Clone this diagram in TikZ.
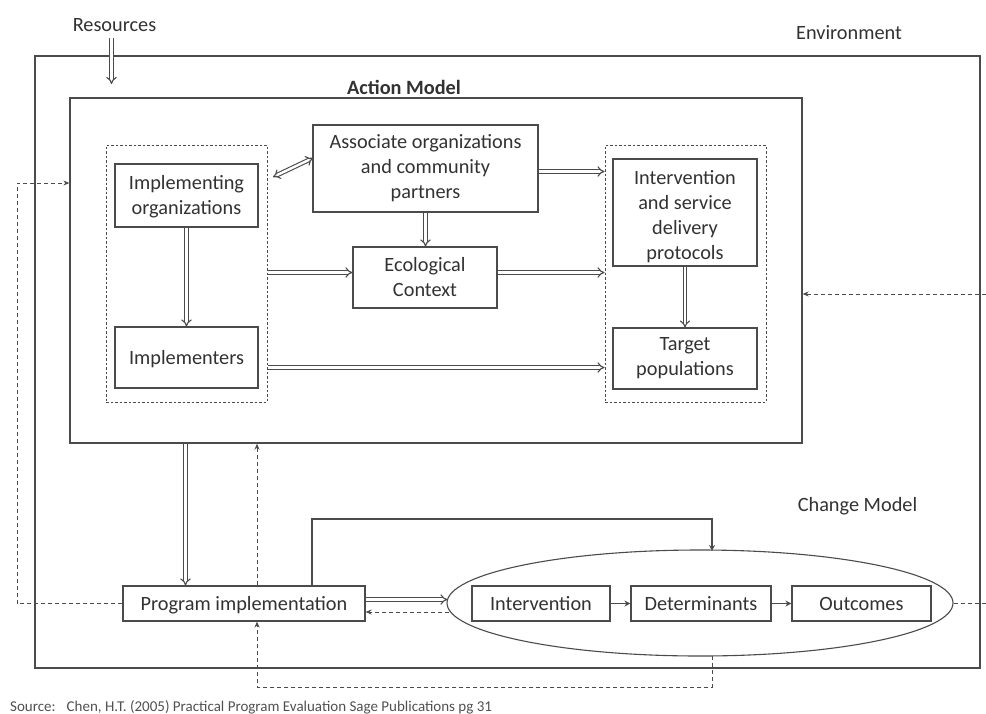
\documentclass[tikz,border=0pt]{standalone}
\usepackage{fontspec}
\setmainfont{Carlito}
\usetikzlibrary{arrows.meta,shapes.geometric,calc}
\definecolor{ink}{RGB}{75,75,75}
\definecolor{txt}{RGB}{50,50,50}

\begin{document}
\begin{tikzpicture}[x=1pt,y=-1pt,
  every node/.style={font=\fontsize{20.3}{25}\selectfont, text=txt},
  frame/.style={draw=ink, line width=1.3pt, rectangle, inner sep=0pt},
  box/.style={draw=ink, line width=1.1pt, rectangle, inner sep=0pt, align=center},
  oneline/.style={text height=16pt, text depth=2pt},
  group/.style={draw=ink, line width=1pt, dash pattern=on 2.5pt off 2pt, rectangle, inner sep=0pt},
  dbl/.style={draw=ink, double=white, double distance=2.4pt, line width=1.1pt, -{Implies}},
  dbltwo/.style={draw=ink, double=white, double distance=2.4pt, line width=1.1pt, {Implies}-{Implies}},
  fb/.style={draw=ink, line width=1pt, dash pattern=on 4pt off 3pt, -{Stealth[length=6pt,width=5pt]}},
  fbline/.style={draw=ink, line width=1pt, dash pattern=on 4pt off 3pt},
  flow/.style={draw=ink, line width=1.1pt, -{Stealth[length=6pt,width=6pt]}},
  label/.style={inner sep=0pt}
]
\useasboundingbox (0,0) rectangle (986,713);

% outer frames
\node[frame, minimum width=945pt, minimum height=612pt] (env) at (507.5,362) {};
\node[frame, minimum width=732pt, minimum height=345pt] (action) at (436,270.5) {};

% titles
\node[label] (restitle) at (114.5,25) {Resources};
\node[label] (envtitle) at (849,33) {Environment};
\node[label, font=\fontsize{20.3}{25}\selectfont\bfseries] (acttitle) at (404,87) {Action Model};
\node[label] (chgtitle) at (857.5,506) {Change Model};

% action model groups and boxes
\node[group, minimum width=161pt, minimum height=257pt] (leftgrp) at (186.5,273.5) {};
\node[group, minimum width=161pt, minimum height=257pt] (rightgrp) at (685.5,273.5) {};
\node[box, minimum width=143pt, minimum height=63pt] (implorg) at (186.5,195.5) {\rule{0pt}{17pt}Implementing\\organizations};
\node[box, oneline, minimum width=143pt, minimum height=61pt] (impl) at (186.5,357.5) {Implementers};
\node[box, minimum width=225pt, minimum height=87pt] (assoc) at (425.5,168.5) {Associate organizations\\and community\\partners};
\node[box, minimum width=144pt, minimum height=61pt] (eco) at (425,277.5) {Ecological\\Context};
\node[box, minimum width=144pt, minimum height=107pt] (proto) at (685,212.5) {\rule{0pt}{22pt}Intervention\\and service\\delivery\\protocols};
\node[box, minimum width=144pt, minimum height=61pt] (target) at (685,358.5) {Target\\populations};

% change model
\node[box, oneline, minimum width=242pt, minimum height=35pt] (prog) at (244,603.5) {Program implementation};
\node[draw=ink, line width=1.1pt, ellipse, inner sep=0pt, minimum width=506pt, minimum height=106pt] (ell) at (700,603) {};
\node[box, oneline, minimum width=138pt, minimum height=35pt] (interv) at (541,603.5) {Intervention};
\node[box, oneline, minimum width=140pt, minimum height=35pt] (determ) at (701,603.5) {Determinants};
\node[box, oneline, minimum width=139pt, minimum height=35pt] (outc) at (861.5,603.5) {Outcomes};

% source line
\node[label, anchor=west, font=\fontsize{15}{17}\selectfont, text={rgb,255:red,80;green,80;blue,80}] (src) at (10,707) {Source:\hspace{11pt}Chen, H.T. (2005) Practical Program Evaluation Sage Publications pg 31};

% helper rows and columns
\coordinate (rA) at (0,171.5);
\coordinate (rB) at (0,272.5);
\coordinate (rC) at (0,367.5);
\coordinate (rD) at (0,294);
\coordinate (rE) at (0,183);
\coordinate (rF) at (0,599.5);
\coordinate (rG) at (0,612);
\coordinate (rH) at (0,519);
\coordinate (rI) at (0,687);
\coordinate (cL) at (17,0);
\coordinate (c185) at (185.5,0);
\coordinate (c257) at (257,0);
\coordinate (c312) at (312,0);
\coordinate (c712) at (712,0);
\coordinate (resend) at (111.5,84);
\coordinate (redge) at (986,294);
\coordinate (redge2) at (986,603);
\coordinate (ao1) at (273,177);
\coordinate (ao2) at (313,158);

% resources input
\draw[dbl] (restitle.south -| resend) ++(0,6) -- (resend);

% action model flows
\draw[dbl] (implorg.south) -- (impl.north);
\draw[dbltwo] (ao1) -- (ao2);
\draw[dbl] (assoc.south) -- (assoc.south |- eco.north);
\draw[dbl] (assoc.east |- rA) -- (rightgrp.west |- rA);
\draw[dbl] (leftgrp.east |- rB) -- (eco.west |- rB);
\draw[dbl] (eco.east |- rB) -- (rightgrp.west |- rB);
\draw[dbl] (leftgrp.east |- rC) -- (rightgrp.west |- rC);
\draw[dbl] (proto.south) -- (target.north);

% environment feedback
\draw[fb] (redge) -- (action.east |- rD);

% action model to program implementation
\draw[dbl] (c185 |- action.south) -- (c185 |- prog.north);
\draw[fb] (c257 |- prog.north) -- (c257 |- action.south);
\draw[fb] (prog.west) -- (cL |- prog.west) -- (cL |- rE) -- (action.west |- rE);

% program implementation to change model
\draw[dbl] (prog.east |- rF) -- ($(ell.west |- rF)+(1,0)$);
\draw[fb] ($(ell.west |- rG)+(3,0)$) -- (prog.east |- rG);
\draw[flow] (c312 |- prog.north) -- (c312 |- rH) -- (c712 |- rH) -- ($(c712 |- ell.north)+(0,1.5)$);
\draw[fb] ($(c712 |- ell.south)+(0,-1)$) -- (c712 |- rI) -- (c257 |- rI) -- (c257 |- prog.south);
\draw[fbline] (ell.east) -- (redge2);

% change model chain
\draw[flow] (interv.east) -- (determ.west);
\draw[flow] (determ.east) -- (outc.west);
\end{tikzpicture}
\end{document}
